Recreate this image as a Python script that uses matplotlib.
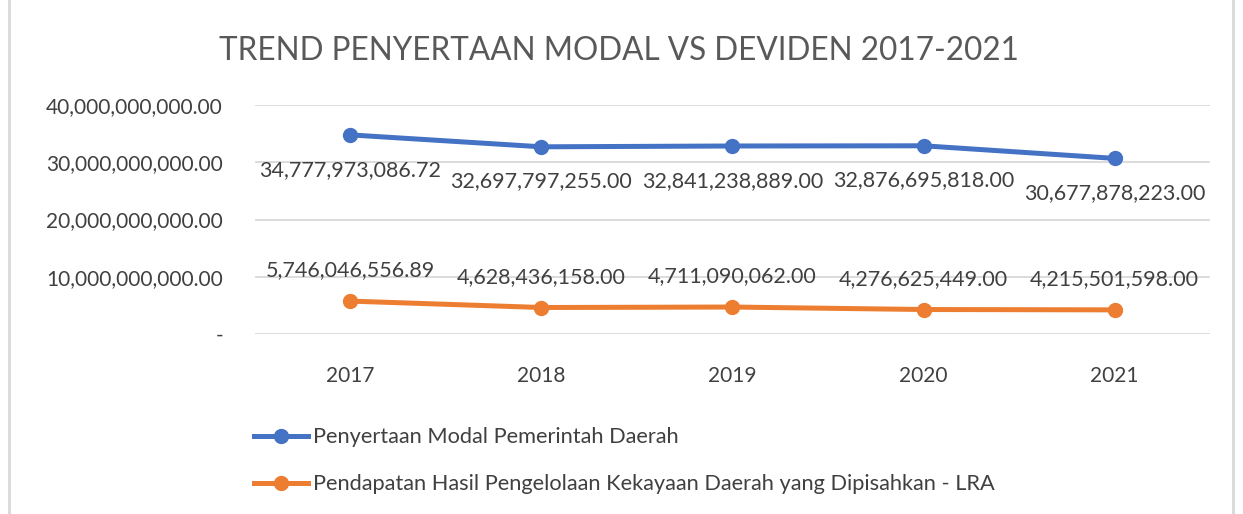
import matplotlib
matplotlib.use('Agg')
import matplotlib.pyplot as plt
from matplotlib.lines import Line2D

plt.rcParams['font.family'] = ['Lato', 'DejaVu Sans']

years = ['2017', '2018', '2019', '2020', '2021']
modal = [34777973086.72, 32697797255.00, 32841238889.00, 32876695818.00, 30677878223.00]
deviden = [5746046556.89, 4628436158.00, 4711090062.00, 4276625449.00, 4215501598.00]
yticks = [0, 10e9, 20e9, 30e9, 40e9]
ytick_labels = ['-', '10,000,000,000.00', '20,000,000,000.00', '30,000,000,000.00', '40,000,000,000.00']
name_modal = 'Penyertaan Modal Pemerintah Daerah'
name_dev = 'Pendapatan Hasil Pengelolaan Kekayaan Daerah yang Dipisahkan - LRA'

blue = '#4472C4'
orange = '#ED7D31'
txt = '#404040'

fig = plt.figure(figsize=(12.43, 5.14), dpi=100)
ax = fig.add_axes([0.2051, 0.3502, 0.7684, 0.4455])

x = range(len(years))
ax.plot(x, modal, color=blue, lw=3.6, marker='o', ms=10, solid_capstyle='round', zorder=3)
ax.plot(x, deviden, color=orange, lw=3.6, marker='o', ms=10, solid_capstyle='round', zorder=3)

for i in x:
    ax.annotate(f'{modal[i]:,.2f}', (i, modal[i]), xytext=(0, -25), textcoords='offset points',
                ha='center', va='center', fontsize=15.5, color=txt)
    ax.annotate(f'{deviden[i]:,.2f}', (i, deviden[i]), xytext=(0, 22), textcoords='offset points',
                ha='center', va='center', fontsize=15.5, color=txt)

ax.set_xlim(-0.5, 4.5)
ax.set_ylim(0, 40e9)
ax.set_yticks(yticks)
ax.set_yticklabels(ytick_labels)
ax.set_xticks(list(x))
ax.set_xticklabels(years)
ax.tick_params(axis='both', length=0, labelsize=15, labelcolor=txt)
ax.tick_params(axis='y', pad=23)
ax.tick_params(axis='x', pad=23)
ax.grid(axis='y', color='#d9d9d9', lw=1.3)
ax.set_axisbelow(True)
for s in ax.spines.values():
    s.set_visible(False)

fig.text(0.498, 0.90, 'TREND PENYERTAAN MODAL VS DEVIDEN 2017-2021', ha='center', va='center',
         fontsize=22.7, color='#595959')

handles = [Line2D([], [], color=blue, lw=3.6, marker='o', ms=10),
           Line2D([], [], color=orange, lw=3.6, marker='o', ms=10)]
fig.legend(handles, [name_modal, name_dev], loc='upper left', bbox_to_anchor=(0.204, 0.169),
           frameon=False, fontsize=15.7, labelcolor=txt, handlelength=2.5, handletextpad=0.23,
           labelspacing=1.25, borderaxespad=0, borderpad=0)

# chart frame
fig.add_artist(Line2D([0.0072, 0.0072], [0, 1], color='#d9d9d9', lw=2, transform=fig.transFigure))
fig.add_artist(Line2D([0.992, 0.992], [0, 1], color='#d9d9d9', lw=2, transform=fig.transFigure))

fig.savefig('out.png', dpi=100)
